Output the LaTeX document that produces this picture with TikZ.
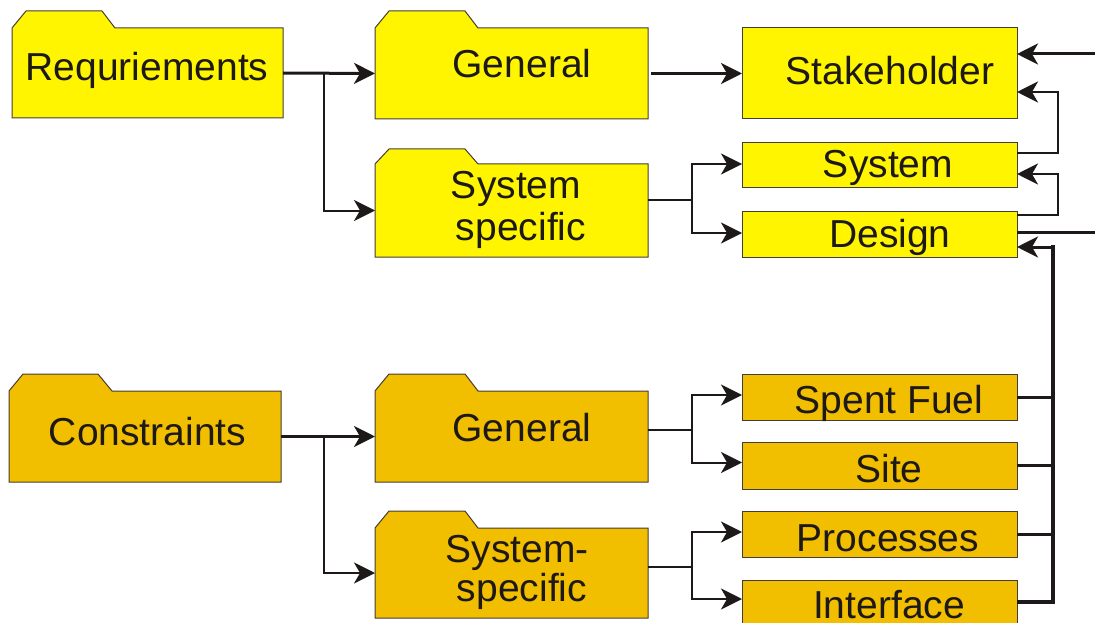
\documentclass[tikz,border=0pt]{standalone}
\usepackage{fontspec}
\setmainfont{Liberation Sans}
\usetikzlibrary{arrows.meta,calc}
\definecolor{yel}{RGB}{255,245,0}
\definecolor{org}{RGB}{242,190,0}
\definecolor{bord}{RGB}{70,60,55}
\definecolor{ink}{RGB}{30,25,25}
\tikzset{
  lbl/.style={anchor=base,inner sep=0pt,font=\fontsize{39}{45}\selectfont,text=ink},
  area/.style={inner sep=0pt,outer sep=0pt,draw=none},
  ybox/.style={fill=yel,draw=bord,line width=1pt,inner sep=0pt,outer sep=0pt},
  obox/.style={fill=org,draw=bord,line width=1pt,inner sep=0pt,outer sep=0pt},
  tip/.style={-{Stealth[length=21pt,width=21pt,inset=6pt]}},
  thk/.style={draw=ink,line width=3pt},
  thn/.style={draw=ink,line width=2pt},
  bus/.style={draw=ink,line width=4pt},
}
\begin{document}
\begin{tikzpicture}[x=1pt,y=-1pt]
\useasboundingbox (0,0) rectangle (1095,623);
\clip (0,0) rectangle (1095,623);
% folders
\path[ybox] (12,118) -- (12,28) -- (26,11) -- (102,11) -- (115,28) -- (283,28) -- (283,118) -- cycle;
\path[ybox] (375,119) -- (375,28) -- (389,11) -- (465,11) -- (478,28) -- (648,28) -- (648,119) -- cycle;
\path[ybox] (375,257) -- (375,164) -- (389,149) -- (465,149) -- (478,164) -- (648,164) -- (648,257) -- cycle;
\path[obox] (9,482) -- (9,391) -- (23,374) -- (98,374) -- (112,391) -- (281,391) -- (281,482) -- cycle;
\path[obox] (375,482) -- (375,391) -- (389,374) -- (465,374) -- (478,391) -- (648,391) -- (648,482) -- cycle;
\path[obox] (375,618) -- (375,528) -- (389,511) -- (465,511) -- (478,528) -- (648,528) -- (648,618) -- cycle;
\node[area,minimum width=271pt,minimum height=90pt] (req) at (147.5,73) {};
\node[area,minimum width=273pt,minimum height=91pt] (genr) at (511.5,73.5) {};
\node[area,minimum width=273pt,minimum height=93pt] (sysr) at (511.5,210.5) {};
\node[area,minimum width=272pt,minimum height=91pt] (con) at (145,436.5) {};
\node[area,minimum width=273pt,minimum height=91pt] (genc) at (511.5,436.5) {};
\node[area,minimum width=273pt,minimum height=90pt] (sysc) at (511.5,573) {};
% boxes
\node[ybox,minimum width=275pt,minimum height=91pt] (stake) at (879.5,73.5) {};
\node[ybox,minimum width=275pt,minimum height=44pt] (sys) at (879.5,165) {};
\node[ybox,minimum width=275pt,minimum height=46pt] (des) at (879.5,234) {};
\node[obox,minimum width=275pt,minimum height=46pt] (spent) at (879.5,397) {};
\node[obox,minimum width=275pt,minimum height=47pt] (site) at (879.5,465.5) {};
\node[obox,minimum width=275pt,minimum height=46pt] (proc) at (879.5,534) {};
\node[obox,minimum width=275pt,minimum height=46pt] (inter) at (879.5,603) {};
% labels
\node[lbl] (reqt) at (147,81) {Requriements};
\node[lbl] (genrt) at (522,78) {General};
\node[lbl] (sysrt1) at (516,198) {System};
\node[lbl] (sysrt2) at (521,240) {specific};
\node[lbl] (cont) at (147.5,445) {Constraints};
\node[lbl] (genct) at (522,441) {General};
\node[lbl] (sysct1) at (517,562) {System-};
\node[lbl] (sysct2) at (522,601) {specific};
\node[lbl] (staket) at (890,85) {Stakeholder};
\node[lbl] (syst) at (888,178) {System};
\node[lbl] (dest) at (890,247) {Design};
\node[lbl] (spentt) at (889,413) {Spent Fuel};
\node[lbl] (sitet) at (889,482) {Site};
\node[lbl] (proct) at (888,551) {Processes};
\node[lbl] (intert) at (889,618) {Interface};
% branch points
\coordinate (b1) at (324,73);
\coordinate (b2) at (324,436);
\coordinate (s1) at (692,200);
\coordinate (s2) at (692,430);
\coordinate (s3) at (692,567);
\coordinate (k1) at (1058,92);
\coordinate (k2) at (1058,174);
\coordinate (r1) at (1095,54);
\coordinate (r2) at (1095,232);
\coordinate (bt) at (1053,247);
% left connectors
\draw[thk,tip] (req.east) -- (genr.west);
\draw[thn,tip] (b1) |- (sysr.west);
\draw[thk,tip] (con.east) -- (genc.west);
\draw[thn,tip] (b2) |- (sysc.west);
\draw[thk,tip,shorten <=3pt] (genr.east) -- (stake.west);
% middle branches
\draw[thn] (sysr.east |- s1) -- (s1);
\draw[thn,tip] (s1) |- ($(sys.west)+(0,-1)$);
\draw[thn,tip] (s1) |- ($(des.west)+(0,-1)$);
\draw[thn] (genc.east |- s2) -- (s2);
\draw[thn,tip] (s2) |- ($(spent.west)+(0,-2)$);
\draw[thn,tip] (s2) |- ($(site.west)+(0,-3)$);
\draw[thn] (sysc.east |- s3) -- (s3);
\draw[thn,tip] (s3) |- ($(proc.west)+(0,-2)$);
\draw[thn,tip] (s3) |- ($(inter.west)+(0,-4)$);
% right side
\draw[thk,tip] (r1) -- (r1 -| stake.east);
\draw[thn,tip] ($(sys.north east)+(0,10)$) -| (k1) -- (k1 -| stake.east);
\draw[thn,tip] ($(des.north east)+(0,4)$) -| (k2) -- (k2 -| sys.east);
\draw[thk] (r2 -| des.east) -- (r2);
\draw[bus] ($(inter.east)+(0,-1)$) -| ($(bt)+(0,-2)$);
\draw[thk,tip] ($(bt)+(2,0)$) -- (bt -| des.east);
\draw[thk] (spent.east) -- (spent.east -| bt);
\draw[thk] (site.east) -- (site.east -| bt);
\draw[thk] (proc.east) -- (proc.east -| bt);
\end{tikzpicture}
\end{document}
